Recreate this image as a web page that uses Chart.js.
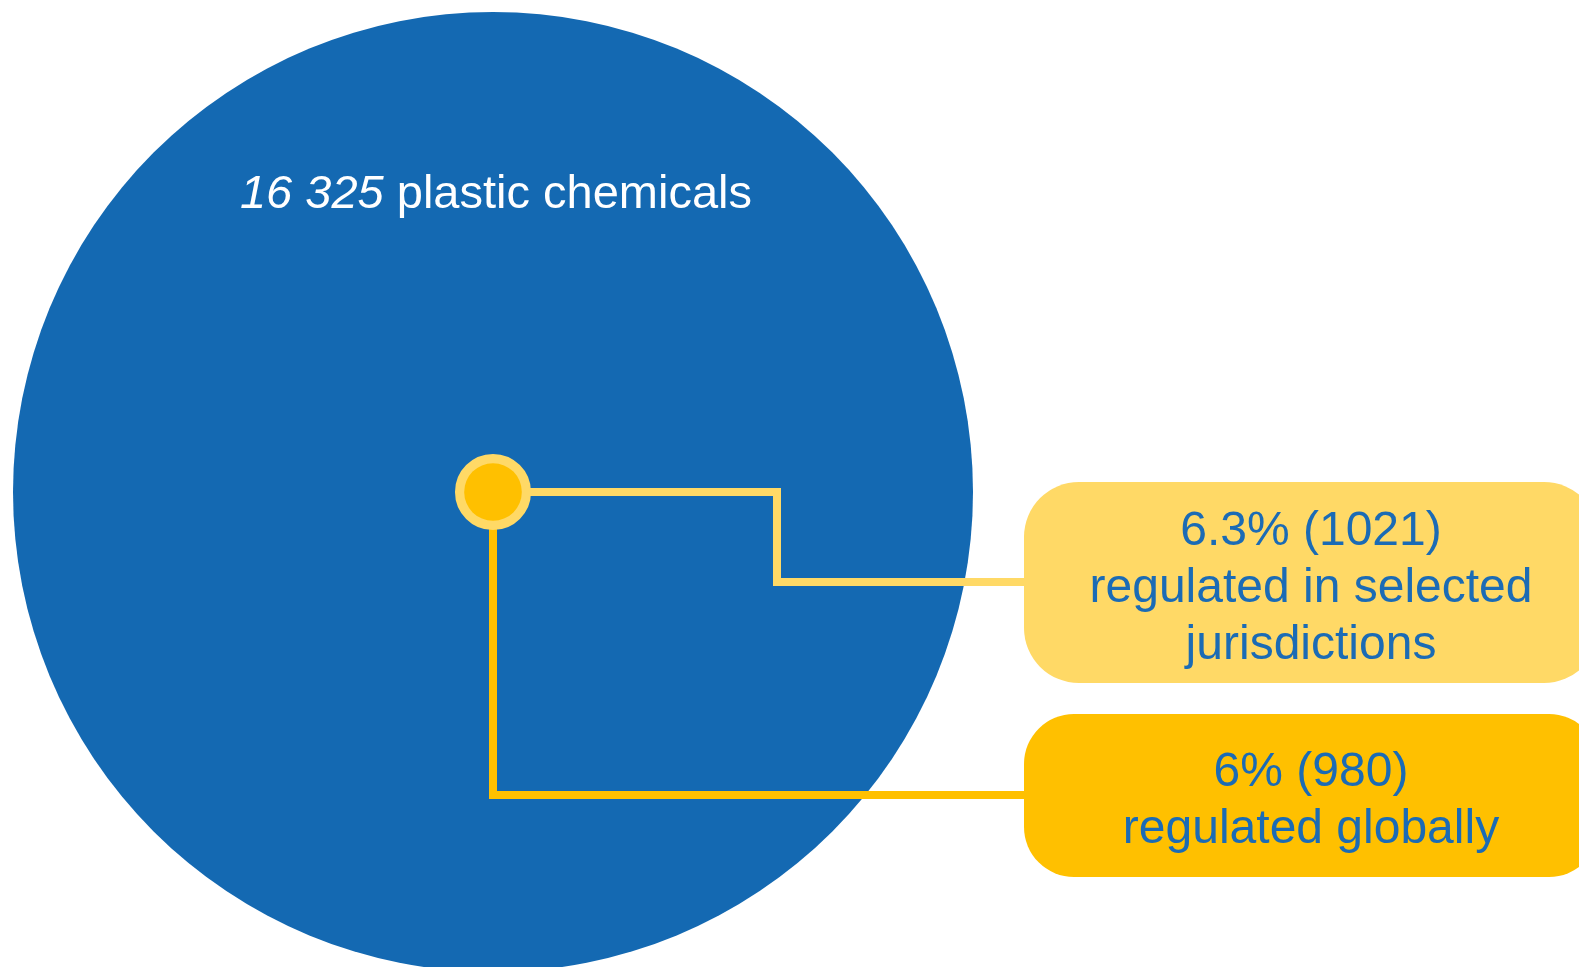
<!DOCTYPE html>
<html><head><meta charset="utf-8">
<script src="https://cdn.jsdelivr.net/npm/chart.js@4"></script>
<style>html,body{margin:0;padding:0;background:#fff;overflow:hidden}canvas{display:block}</style>
</head><body>
<canvas id="c" width="1579" height="967"></canvas>
<script>
// ---- data ----
const categories = ['plastic chemicals', 'regulated in selected jurisdictions', 'regulated globally'];
const counts = [16325, 1021, 980];
const shareLabels = ['100%', '6.3%', '6%'];
const boxLines = [
  null,
  [shareLabels[1] + ' (' + counts[1] + ')', 'regulated in selected', 'jurisdictions'],
  [shareLabels[2] + ' (' + counts[2] + ')', 'regulated globally']
];

// ---- styles ----
const C = { blue: '#1469B2', light: '#FFD966', gold: '#FFC000', text: '#1B6BB5', white: '#FFFFFF' };
const R_MAX = 480;
const FONT = '"Liberation Sans", Arial, sans-serif';

function fmtThousands(n) { return String(n).replace(/\B(?=(\d{3})+(?!\d))/g, ' '); }

// callout layout in data units (scale units = px-equivalent)
const layout = {
  elbowX: 284, line1Y: -90, line2Y: -303, boxLeft: 531,
  box1: { top: 10, bottom: -191 }, box2: { top: -222, bottom: -385 }, boxWidth: 575,
  textX: 818, textShift: 6
};

const calloutPlugin = {
  id: 'callouts',
  beforeDatasetDraw(chart, args) {
    if (args.index !== 1) return;
    const ctx = chart.ctx, xs = chart.scales.x, ys = chart.scales.y;
    const px = v => xs.getPixelForValue(v), py = v => ys.getPixelForValue(v);
    ctx.save();
    ctx.lineWidth = 8;
    ctx.lineJoin = 'miter';
    ctx.lineCap = 'butt';
    ctx.strokeStyle = C.light;
    ctx.beginPath();
    ctx.moveTo(px(0), py(0));
    ctx.lineTo(px(layout.elbowX), py(0));
    ctx.lineTo(px(layout.elbowX), py(layout.line1Y));
    ctx.lineTo(px(layout.boxLeft), py(layout.line1Y));
    ctx.stroke();
    ctx.strokeStyle = C.gold;
    ctx.beginPath();
    ctx.moveTo(px(0), py(0));
    ctx.lineTo(px(0), py(layout.line2Y));
    ctx.lineTo(px(layout.boxLeft), py(layout.line2Y));
    ctx.stroke();
    ctx.restore();
  },
  afterDatasetsDraw(chart) {
    const ctx = chart.ctx, xs = chart.scales.x, ys = chart.scales.y;
    const px = v => xs.getPixelForValue(v), py = v => ys.getPixelForValue(v);
    ctx.save();
    const boxes = [
      { b: layout.box1, fill: C.light, lines: boxLines[1], r: 55 },
      { b: layout.box2, fill: C.gold, lines: boxLines[2], r: 50 }
    ];
    boxes.forEach(bx => {
      const x0 = px(layout.boxLeft), y0 = py(bx.b.top), y1 = py(bx.b.bottom);
      ctx.fillStyle = bx.fill;
      ctx.beginPath();
      ctx.roundRect(x0, y0, layout.boxWidth, y1 - y0, bx.r);
      ctx.fill();
      ctx.fillStyle = C.text;
      ctx.font = '48px ' + FONT;
      ctx.textAlign = 'center';
      ctx.textBaseline = 'middle';
      const lh = 57;
      const n = bx.lines.length;
      const cy = (y0 + y1) / 2 + layout.textShift;
      bx.lines.forEach((t, i) => {
        ctx.fillText(t, px(layout.textX), cy + (i - (n - 1) / 2) * lh);
      });
    });
    const num = fmtThousands(counts[0]);
    const rest = ' ' + categories[0];
    ctx.fillStyle = C.white;
    ctx.textBaseline = 'alphabetic';
    ctx.textAlign = 'left';
    ctx.font = 'italic 47px ' + FONT;
    const w1 = ctx.measureText(num).width;
    ctx.font = '47px ' + FONT;
    const w2 = ctx.measureText(rest).width;
    const cx = px(3), by = py(284);
    let x = cx - (w1 + w2) / 2;
    ctx.font = 'italic 47px ' + FONT;
    ctx.fillText(num, x, by);
    ctx.font = '47px ' + FONT;
    ctx.fillText(rest, x + w1, by);
    ctx.restore();
  }
};

const radiusFor = i => counts[i] / counts[0] * R_MAX;

new Chart(document.getElementById('c'), {
  type: 'bubble',
  data: {
    datasets: [
      { label: categories[0], data: [{ x: 0, y: 0, r: radiusFor(0) }], backgroundColor: C.blue, borderWidth: 0, order: 3, clip: false },
      { label: categories[1], data: [{ x: 0, y: 0, r: radiusFor(1) }], backgroundColor: C.light, borderColor: C.light, borderWidth: 16, order: 2 },
      { label: categories[2], data: [{ x: 0, y: 0, r: radiusFor(2) }], backgroundColor: C.gold, borderWidth: 0, order: 1 }
    ]
  },
  options: {
    responsive: false,
    animation: false,
    events: [],
    layout: { padding: 0, autoPadding: false },
    plugins: { legend: { display: false }, tooltip: { enabled: false } },
    scales: {
      x: { type: 'linear', min: -493, max: 1086, display: false },
      y: { type: 'linear', min: -475, max: 492, display: false }
    }
  },
  plugins: [calloutPlugin]
});
</script>
</body></html>
